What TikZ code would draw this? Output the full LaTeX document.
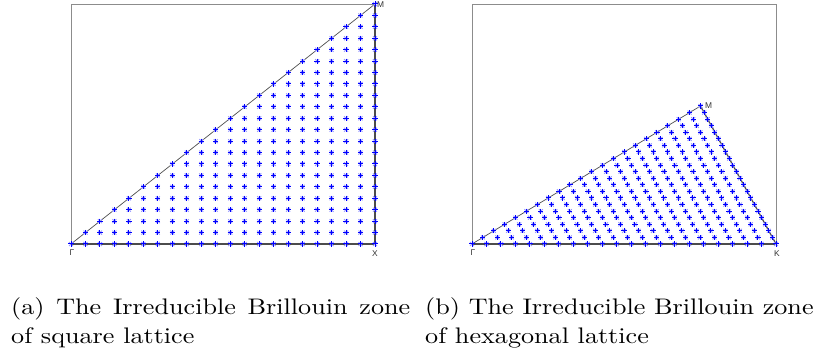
\documentclass[tikz,border=0pt]{standalone}
\usepackage{graphicx}
\usepackage{fontspec}
\newfontfamily\labfont{Liberation Sans}
\newfontfamily\capfont{lmroman10-regular.otf}
\newcommand\capw[1]{\scalebox{1.162}[1]{#1}}
\begin{document}
\begin{tikzpicture}[x=1pt,y=-1pt,
  framebox/.style={draw=gray!90,line width=0.8pt},
  edge/.style={draw=black!70,line width=0.7pt},
  thickedge/.style={draw=black!70,line width=1.2pt},
  ptlabel/.style={font=\labfont\fontsize{8.4}{9}\selectfont,text=black!80,inner sep=0pt},
  caption/.style={font=\capfont\fontsize{22.5}{27}\selectfont,inner sep=0pt,anchor=base west}]
\useasboundingbox (0,0) rectangle (814,358);
\newcommand\mk[2]{%
  \draw[blue!40,line width=0.9pt] (#1-2,#2-2) -- (#1+2,#2+2) (#1-2,#2+2) -- (#1+2,#2-2);
  \draw[blue,line width=1pt] (#1-2.6,#2) -- (#1+2.6,#2) (#1,#2-2.6) -- (#1,#2+2.6);}
% ---------- panel (a) ----------
\coordinate (G1) at (71,244);
\coordinate (X1) at (375,244);
\coordinate (M1) at (375,4);
\draw[framebox] (71,4) rectangle (375,244);
\draw[edge] (G1) -- (M1);
\draw[thickedge] (G1) -- (X1) -- (M1);
\foreach \i in {0,...,21}{
  \foreach \j in {0,...,\i}{
    \pgfmathsetmacro\px{71+\i*304/21}
    \pgfmathsetmacro\py{244-\j*240/21}
    \mk{\px}{\py}
  }
}
\node[ptlabel] (lG1) at (72,253) {Γ};
\node[ptlabel] (lX1) at (375,254) {X};
\node[ptlabel,anchor=west] (lM1) at (377,5) {M};
% ---------- panel (b) ----------
\coordinate (G2) at (472,244);
\coordinate (K2) at (776,244);
\coordinate (M2) at (700.5,106);
\draw[framebox] (472,4) rectangle (776,244);
\draw[edge] (G2) -- (M2);
\draw[thickedge] (M2) -- (K2);
\draw[thickedge] (G2) -- (K2);
\foreach \i in {0,...,21}{
  \pgfmathtruncatemacro\jmax{21-\i}
  \foreach \j in {0,...,\jmax}{
    \pgfmathsetmacro\px{472+\i*304/21+\j*228.5/21}
    \pgfmathsetmacro\py{244-\j*138/21}
    \mk{\px}{\py}
  }
}
\node[ptlabel] (lG2) at (473,253) {Γ};
\node[ptlabel] (lK2) at (777,254) {K};
\node[ptlabel,anchor=west] (lM2) at (705,106) {M};
% ---------- captions ----------
\node[caption] (ca1) at (11,314) {\capw{\hbox to 343.4pt{(a) The Irreducible Brillouin zone}}};
\node[caption] (ca2) at (11,343) {\capw{of square lattice}};
\node[caption] (cb1) at (425,314) {\capw{(b) The Irreducible Brillouin zone}};
\node[caption] (cb2) at (425,343) {\capw{of hexagonal lattice}};
\end{tikzpicture}
\end{document}
